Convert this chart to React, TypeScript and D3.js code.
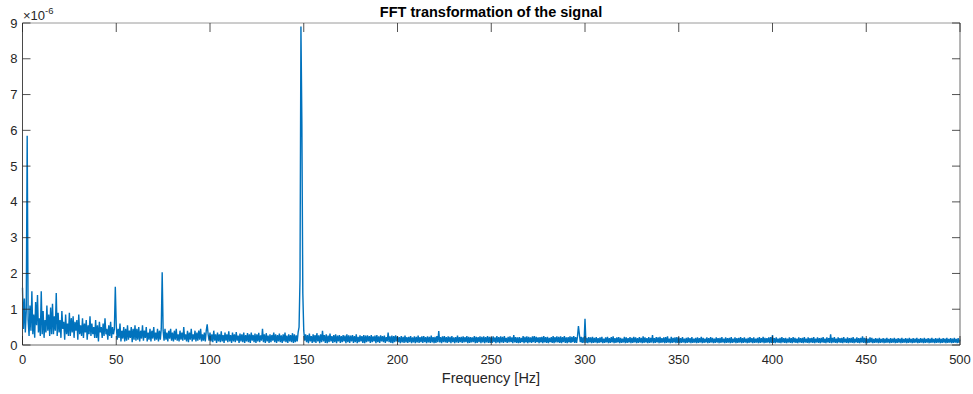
import React from "react";
import * as d3 from "d3";

// Amplitudes in units of 1e-8, sampled every 0.5 Hz, one array per 50 Hz band
const segStarts = [0, 50, 100, 150, 200, 250, 300, 350, 400, 450];
const amp000 = [
  160,45, 130,35, 95,585, 70,25, 110,40,
  150,30, 85,20, 120,55, 140,35, 75,25,
  150,30, 95,20, 70,35, 110,40, 85,25,
  105,30, 115,30, 80,40, 145,25, 90,35,
  70,20, 95,45, 65,15, 85,30, 60,25,
  90,25, 75,35, 80,20, 65,40, 70,15,
  85,30, 55,25, 75,20, 60,35, 70,15,
  55,30, 80,25, 60,30, 50,20, 70,20,
  55,10, 65,35, 50,20, 60,25, 75,30,
  45,15, 55,25, 65,20, 50,30, 45,163,
];
const amp050 = [
  55,15, 45,20, 60,10, 40,18, 50,10,
  45,12, 55,15, 40,20, 50,8, 45,15,
  55,12, 45,15, 50,10, 40,18, 55,12,
  40,20, 50,10, 35,15, 45,10, 40,18,
  50,12, 35,15, 45,10, 40,15, 45,203,
  40,12, 45,15, 35,10, 40,18, 45,12,
  35,10, 40,15, 45,12, 30,10, 40,15,
  35,12, 50,15, 30,10, 40,8, 35,15,
  45,10, 30,15, 40,10, 35,12, 40,15,
  45,10, 30,12, 35,10, 40,58, 30,12,
];
const amp100 = [
  35,10, 30,8, 40,12, 30,6, 35,10,
  30,8, 38,10, 28,6, 35,12, 30,8,
  38,10, 28,6, 35,10, 30,8, 36,12,
  26,6, 32,10, 30,8, 35,6, 28,10,
  33,8, 30,6, 35,12, 28,8, 32,6,
  30,10, 34,8, 27,12, 45,8, 30,6,
  33,10, 26,6, 30,8, 28,12, 35,8,
  30,6, 28,10, 32,8, 27,6, 30,10,
  35,8, 26,6, 30,10, 28,8, 33,6,
  30,8, 27,10, 35,50, 184,890, 620,145,
];
const amp150 = [
  40,12, 30,8, 28,5, 32,10, 25,6,
  30,8, 28,6, 33,10, 27,5, 30,8,
  40,10, 28,6, 30,5, 26,8, 32,10,
  25,6, 28,8, 30,5, 26,10, 28,6,
  25,8, 28,10, 26,5, 30,8, 27,6,
  26,10, 28,6, 25,8, 30,5, 23,8,
  27,10, 25,6, 28,5, 26,8, 27,10,
  25,6, 28,8, 24,10, 26,5, 28,8,
  24,6, 27,10, 25,8, 26,6, 22,10,
  35,8, 24,6, 26,5, 25,8, 27,10,
];
const amp200 = [
  24,8, 22,5, 25,7, 23,6, 26,7,
  22,6, 23,8, 25,5, 21,7, 24,5,
  23,7, 26,6, 22,8, 24,6, 25,8,
  22,5, 24,7, 23,6, 26,7, 22,5,
  23,6, 25,8, 39,7, 22,5, 24,8,
  25,7, 22,6, 24,8, 23,5, 25,8,
  21,5, 22,7, 26,6, 22,8, 23,6,
  24,7, 22,8, 25,5, 23,6, 22,7,
  21,8, 25,5, 23,6, 22,8, 24,5,
  23,7, 24,5, 22,7, 25,6, 23,6,
];
const amp250 = [
  22,6, 24,8, 21,5, 25,7, 22,5,
  24,7, 23,6, 25,8, 20,6, 23,7,
  24,8, 21,5, 28,7, 22,6, 21,5,
  22,6, 20,8, 25,5, 23,7, 24,5,
  23,7, 21,6, 24,8, 25,6, 23,8,
  21,5, 22,7, 23,5, 25,7, 22,6,
  23,5, 20,8, 22,6, 25,5, 22,7,
  24,7, 23,6, 24,5, 22,8, 25,6,
  21,5, 22,7, 24,6, 23,8, 25,6,
  22,6, 24,53, 30,8, 23,6, 21,6,
];
const amp300 = [
  73,6, 20,5, 22,7, 21,5, 23,6,
  20,7, 22,5, 19,6, 21,7, 23,5,
  18,6, 21,7, 23,5, 19,6, 22,7,
  24,5, 19,6, 21,7, 22,5, 20,6,
  18,7, 23,5, 21,6, 19,7, 22,5,
  20,6, 23,7, 21,5, 19,6, 22,7,
  20,5, 24,6, 21,7, 19,5, 22,6,
  20,7, 28,5, 19,6, 22,7, 21,5,
  23,6, 19,7, 21,5, 22,6, 24,7,
  18,5, 23,6, 20,7, 21,5, 22,6,
];
const amp350 = [
  21,5, 19,6, 22,7, 18,5, 20,6,
  21,7, 19,5, 22,6, 18,7, 20,5,
  21,6, 19,7, 23,5, 20,6, 18,7,
  21,5, 19,6, 22,7, 20,5, 18,6,
  21,7, 19,5, 20,6, 22,7, 18,5,
  21,6, 19,7, 20,5, 22,6, 18,7,
  21,5, 19,6, 20,7, 22,5, 19,6,
  21,7, 18,5, 20,6, 22,7, 19,5,
  21,6, 18,7, 20,5, 22,6, 19,7,
  23,5, 20,6, 19,7, 21,5, 22,6,
];
const amp400 = [
  28,6, 19,5, 21,7, 18,6, 20,5,
  22,7, 19,6, 20,5, 18,7, 21,6,
  19,5, 22,7, 20,6, 18,5, 21,7,
  19,6, 20,5, 22,7, 18,6, 21,5,
  19,7, 20,6, 22,5, 18,7, 21,6,
  19,5, 20,7, 22,6, 18,5, 21,7,
  19,6, 30,5, 20,7, 22,6, 18,5,
  21,7, 19,6, 20,5, 22,7, 18,6,
  21,5, 19,7, 20,6, 22,5, 18,7,
  21,6, 19,5, 20,7, 24,6, 20,5,
];
const amp450 = [
  19,5, 18,6, 21,7, 20,5, 17,6,
  19,7, 18,5, 20,6, 17,7, 19,5,
  18,6, 20,7, 17,5, 19,6, 18,7,
  20,5, 17,6, 19,7, 18,5, 20,6,
  17,7, 19,5, 18,6, 20,7, 17,5,
  19,6, 18,7, 20,5, 17,6, 19,7,
  18,5, 20,6, 17,7, 19,5, 18,6,
  20,7, 17,5, 19,6, 18,7, 20,5,
  17,6, 19,7, 18,5, 20,6, 17,7,
  19,5, 18,6, 20,7, 17,5, 19,6, 15,
];
const segments = [amp000, amp050, amp100, amp150, amp200, amp250, amp300, amp350, amp400, amp450];

const xTicks = [0, 50, 100, 150, 200, 250, 300, 350, 400, 450, 500];
const yTicks = [0, 1, 2, 3, 4, 5, 6, 7, 8, 9];
const title = "FFT transformation of the signal";
const xLabel = "Frequency [Hz]";

const W = 973;
const H = 394;
const L = 22.5;
const R = 960;
const T = 23;
const B = 345;

export default function App() {
  const x = d3.scaleLinear().domain([0, 500]).range([L, R]);
  const y = d3.scaleLinear().domain([0, 9e-6]).range([B, T]);

  const pts: [number, number][] = [];
  segments.forEach((seg, k) => {
    seg.forEach((v, j) => {
      pts.push([segStarts[k] + j * 0.5, v * 1e-8]);
    });
  });
  const line = d3
    .line<[number, number]>()
    .x((d) => x(d[0]))
    .y((d) => y(d[1]));

  const font = "'Liberation Sans', Arial, Helvetica, sans-serif";
  const axisCol = "#262626";

  return (
    <svg
      width={W}
      height={H}
      style={{ position: "absolute", left: 0, top: 0, background: "#fff" }}
      fontFamily={font}
    >
      <rect x={0} y={0} width={W} height={H} fill="#fff" />
      <path
        d={line(pts) || ""}
        fill="none"
        stroke="#0072BD"
        strokeWidth={1.4}
        strokeLinejoin="bevel"
      />
      {/* box */}
      <line x1={L} x2={R} y1={T} y2={T} stroke="#9a9a9a" strokeWidth={1} />
      <line x1={R} x2={R} y1={T} y2={B} stroke="#6a6a6a" strokeWidth={1} />
      <line x1={L} x2={R} y1={B} y2={B} stroke="#6a6a6a" strokeWidth={1} />
      <line x1={L} x2={L} y1={T} y2={B} stroke="#4a4a4a" strokeWidth={1} />
      {xTicks.map((t) => (
        <g key={"x" + t}>
          <line x1={x(t)} x2={x(t)} y1={B} y2={B - 9} stroke={axisCol} strokeWidth={0.8} />
          <line x1={x(t)} x2={x(t)} y1={T} y2={T + 9} stroke={axisCol} strokeWidth={0.8} />
          <text x={x(t)} y={364} textAnchor="middle" fontSize={13} fill={axisCol}>
            {t}
          </text>
        </g>
      ))}
      {yTicks.map((t) => (
        <g key={"y" + t}>
          <line x1={L} x2={L + 8} y1={y(t * 1e-6)} y2={y(t * 1e-6)} stroke={axisCol} strokeWidth={0.8} />
          <line x1={R} x2={R - 8} y1={y(t * 1e-6)} y2={y(t * 1e-6)} stroke={axisCol} strokeWidth={0.8} />
          <text
            x={17.5}
            y={y(t * 1e-6) + 4.5}
            textAnchor="end"
            fontSize={13}
            fill={axisCol}
          >
            {t}
          </text>
        </g>
      ))}
      <text x={23} y={19.5} fontSize={13} fill={axisCol}>
        ×10
        <tspan dy={-6} fontSize={9.5}>
          -6
        </tspan>
      </text>
      <text x={491} y={16.5} textAnchor="middle" fontSize={14.5} fontWeight="bold" fill="#000">
        {title}
      </text>
      <text x={491} y={383} textAnchor="middle" fontSize={14.5} fill={axisCol}>
        {xLabel}
      </text>
    </svg>
  );
}
